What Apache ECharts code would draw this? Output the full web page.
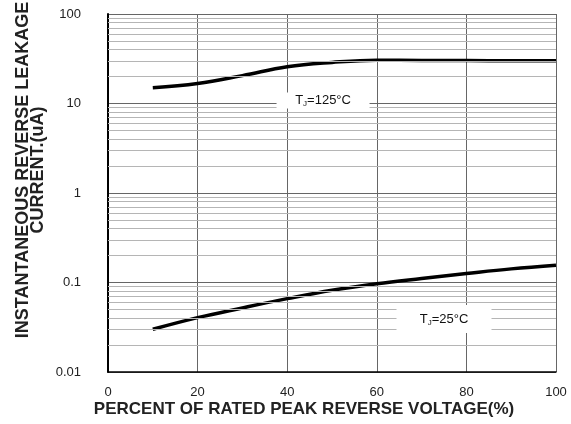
<!DOCTYPE html>
<html>
<head>
<meta charset="utf-8">
<script src="https://cdn.jsdelivr.net/npm/echarts@6/dist/echarts.min.js"></script>
<style>
  body { margin: 0; background: #fff; }
  #chart { width: 571px; height: 424px; }
</style>
</head>
<body>
<div id="chart"></div>
<script>
// percent of rated peak reverse voltage
const voltage = [10, 20, 30, 40, 50, 60, 70, 80, 90, 100];
// leakage current (uA)
const hot125 = [15, 16.7, 20.5, 25.8, 28.8, 30.5, 30.3, 30.2, 30, 30];
const room25 = [0.03, 0.0405, 0.052, 0.066, 0.082, 0.097, 0.111, 0.126, 0.142, 0.156];
const xTicks = [0, 20, 40, 60, 80, 100];
const decades = [0.01, 0.1, 1, 10];
const steps = [2, 3, 4, 5, 6, 7, 8, 9];

const minorLines = [];
decades.forEach(d => steps.forEach(s => minorLines.push({ yAxis: +(d * s).toPrecision(3) })));

const font = '"Liberation Sans", Arial, sans-serif';
const tagStyle = {
  show: true,
  position: 'inside',
  color: '#111',
  fontFamily: font,
  fontSize: 13,
  rich: { sub: { fontSize: 8, fontFamily: font, color: '#111', padding: [7, 0, 0, 0] } }
};

const chart = echarts.init(document.getElementById('chart'));
chart.setOption({
  animation: false,
  grid: { left: 108, right: 15, top: 14, bottom: 52 },
  graphic: [
    {
      type: 'text', left: 'center', top: -12,
      style: { text: 'TYPICAL REVERSE CHARACTERISTICS', font: 'bold 15px ' + font, fill: '#d4d4d4' }
    },
    {
      type: 'text', x: 31, y: 170, rotation: Math.PI / 2,
      style: {
        text: 'INSTANTANEOUS REVERSE LEAKAGE\nCURRENT.(uA)',
        font: 'bold 18px ' + font, fill: '#222',
        align: 'center', verticalAlign: 'middle', lineHeight: 15
      }
    },
    {
      type: 'text', x: 304, y: 409,
      style: {
        text: 'PERCENT OF RATED PEAK REVERSE VOLTAGE(%)',
        font: 'bold 17px ' + font, fill: '#222',
        align: 'center', verticalAlign: 'middle'
      }
    }
  ],
  xAxis: {
    type: 'value', min: 0, max: 100, interval: 20,
    axisLine: { lineStyle: { color: '#000', width: 1.5 } },
    axisTick: { show: false },
    axisLabel: {
      margin: 14, color: '#222', fontSize: 13, fontFamily: font,
      formatter: v => xTicks.includes(v) ? String(v) : ''
    },
    splitLine: { show: true, lineStyle: { color: '#666', width: 1 } }
  },
  yAxis: {
    type: 'log', logBase: 10, min: 0.01, max: 100,
    axisLine: { show: true, lineStyle: { color: '#000', width: 2 } },
    axisTick: { show: false },
    axisLabel: {
      margin: 27, color: '#222', fontSize: 13, fontFamily: font,
      formatter: v => String(+v.toPrecision(3))
    },
    splitLine: { show: true, lineStyle: { color: '#666', width: 1 } }
  },
  series: [
    {
      type: 'line', data: [], silent: true, z: 1,
      markLine: {
        silent: true, symbol: 'none', animation: false,
        label: { show: false },
        lineStyle: { color: '#b5b5b5', width: 1, type: 'solid' },
        data: minorLines
      }
    },
    {
      name: 'TJ=125°C', type: 'line', smooth: 0.4, symbol: 'none', z: 3,
      lineStyle: { color: '#000', width: 3.5 },
      data: voltage.map((v, i) => [v, hot125[i]]),
      markPoint: {
        silent: true, symbol: 'rect', symbolSize: [93, 16],
        itemStyle: { color: '#fff' },
        label: Object.assign({ formatter: 'T{sub|J}=125°C' }, tagStyle),
        data: [{ coord: [48, 10.8] }]
      }
    },
    {
      name: 'TJ=25°C', type: 'line', smooth: 0.4, symbol: 'none', z: 3,
      lineStyle: { color: '#000', width: 3.5 },
      data: voltage.map((v, i) => [v, room25[i]]),
      markPoint: {
        silent: true, symbol: 'rect', symbolSize: [95, 28],
        itemStyle: { color: '#fff' },
        label: Object.assign({ formatter: 'T{sub|J}=25°C' }, tagStyle),
        data: [{ coord: [75, 0.039] }]
      }
    }
  ]
});
</script>
</body>
</html>
